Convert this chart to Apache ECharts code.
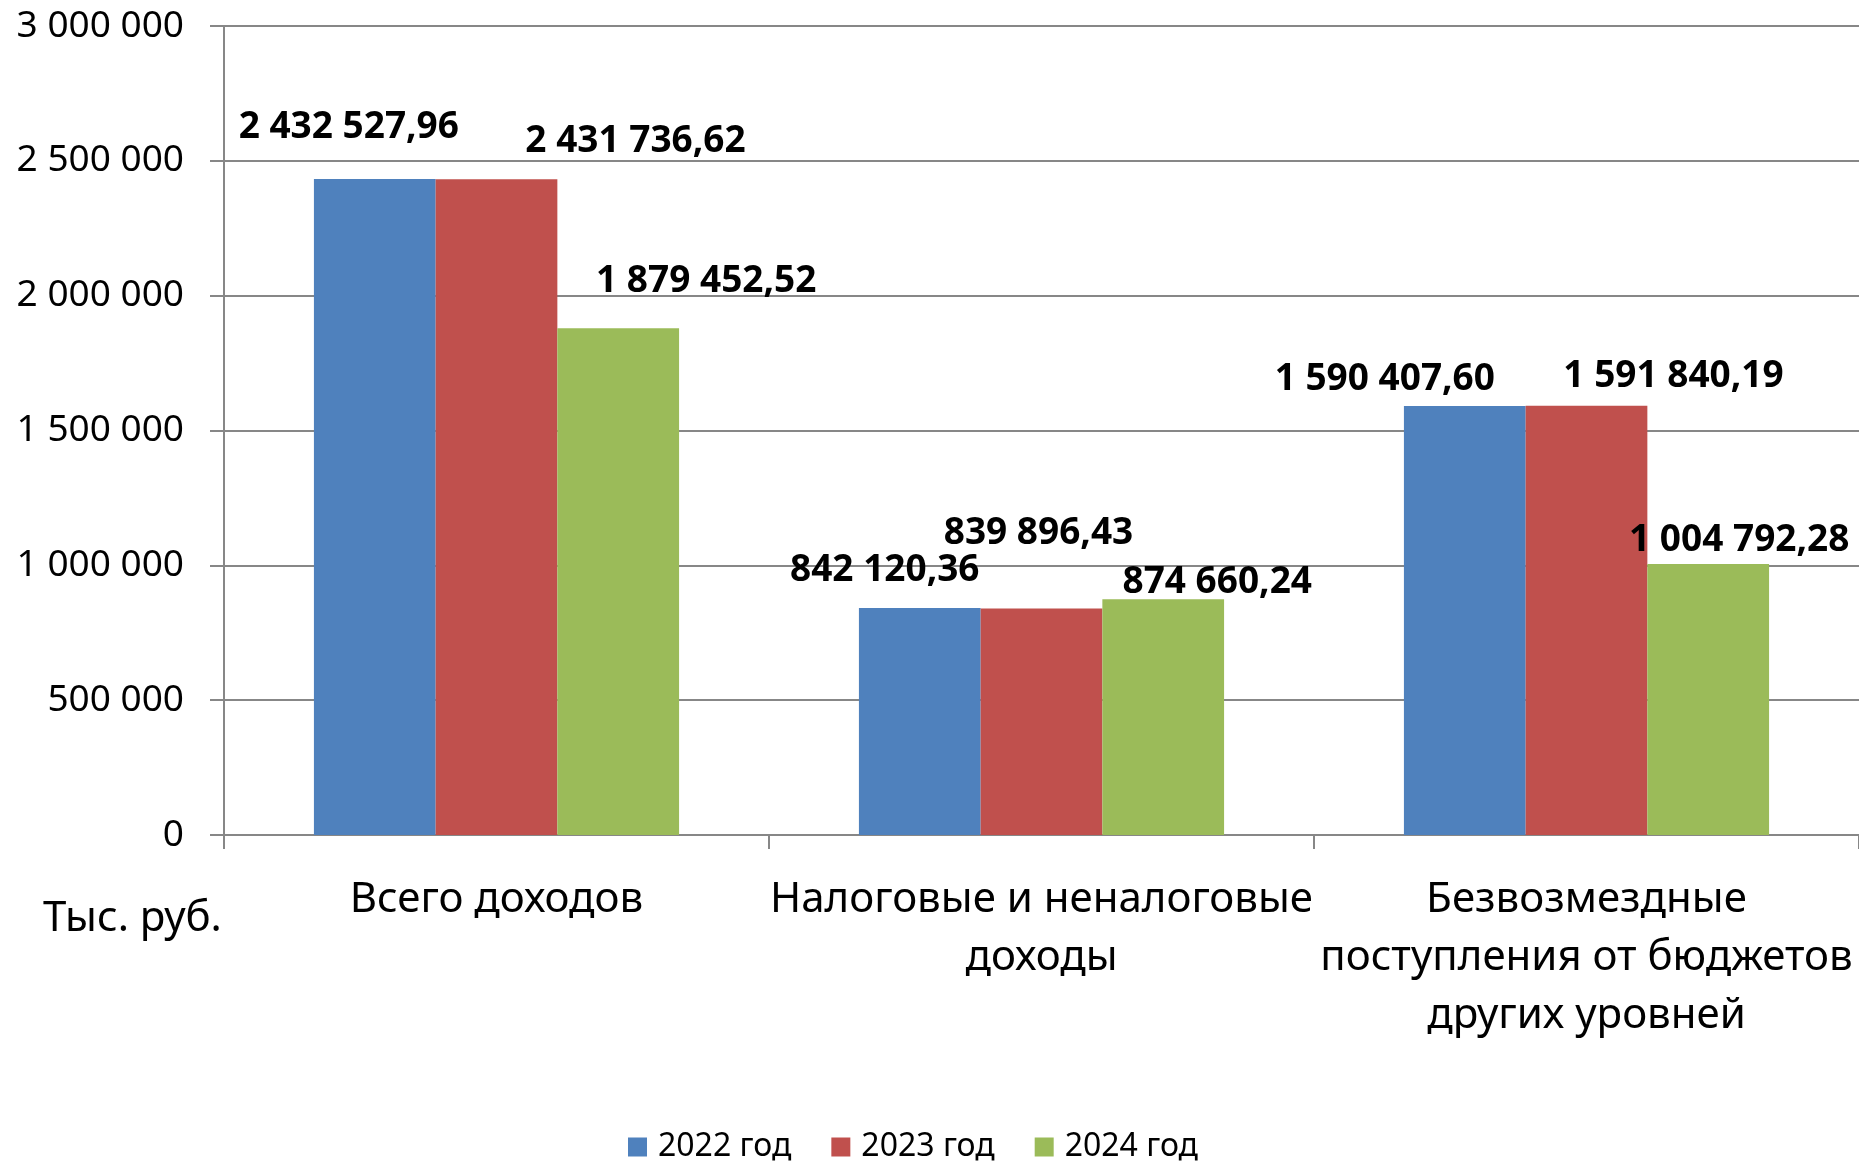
<!DOCTYPE html>
<html>
<head>
<meta charset="utf-8">
<title>Доходы</title>
<script src="https://cdn.jsdelivr.net/npm/echarts@6/dist/echarts.min.js"></script>
<style>
  html, body { margin: 0; padding: 0; background: #fff; }
  #cv { width: 1859px; height: 1164px; }
</style>
</head>
<body>
<div id="cv"></div>
<script>
    var years = ['2022 год', '2023 год', '2024 год'];
    var categories = ['Всего доходов', 'Налоговые и неналоговые\nдоходы', 'Безвозмездные\nпоступления от бюджетов\nдругих уровней'];
    var v2022 = [2432527.96, 842120.36, 1590407.60];
    var v2023 = [2431736.62, 839896.43, 1591840.19];
    var v2024 = [1879452.52, 874660.24, 1004792.28];
    var yMin = 0, yMax = 3000000, yStep = 500000;

    // where the labels were dragged to in the original (px, from bar top centre)
    var shift2022 = [[-26, -33], [-35, -19], [-80, -8]];
    var shift2023 = [[139, -19], [-3, -57], [87, -11]];
    var shift2024 = [[88, -28], [54, 2], [31, -5]];

    var colors = ['#4F81BD', '#C0504D', '#9BBB59'];
    var font = 'Noto Sans';
    var gray = '#878787';

    function fmt(v, d) {
        var parts = v.toFixed(d).split('.');
        var whole = parts[0].replace(/\B(?=(\d{3})+(?!\d))/g, ' ');
        return parts.length > 1 ? whole + ',' + parts[1] : whole;
    }

    function seriesOf(name, values, shifts, color) {
        return {
            name: name,
            type: 'bar',
            barGap: '0%',
            barCategoryGap: '33%',
            itemStyle: { color: color },
            data: values.map(function (v, i) {
                return {
                    value: v,
                    label: { offset: shifts[i] }
                };
            }),
            label: {
                show: true,
                position: 'top',
                distance: 0,
                fontFamily: font,
                fontWeight: 'bold',
                fontSize: 37,
                lineHeight: 37,
                color: '#000',
                formatter: function (p) { return fmt(p.value, 2); }
            }
        };
    }

    var myChart = echarts.init(document.getElementById('cv'));
    var option = {
        animation: false,
        textStyle: { fontFamily: font },
        grid: {
            left: 224,
            width: 1642,
            top: 26,
            bottom: 329
        },
        legend: {
            data: years,
            left: 628,
            top: 1131,
            padding: 0,
            itemWidth: 19,
            itemHeight: 19,
            itemGap: 40,
            icon: 'rect',
            textStyle: { fontFamily: font, fontSize: 32, color: '#000', padding: [0, 0, 0, 6] }
        },
        graphic: [{
            type: 'text',
            left: 43,
            top: 898,
            style: { text: 'Тыс. руб.', fontFamily: font, fontSize: 42, fill: '#000' }
        }],
        xAxis: {
            type: 'category',
            data: categories,
            axisLine: { lineStyle: { color: gray, width: 2 } },
            axisTick: { show: true, length: 14, lineStyle: { color: gray, width: 2 } },
            axisLabel: {
                margin: 36,
                fontFamily: font,
                fontSize: 42,
                lineHeight: 58,
                color: '#000',
                interval: 0
            }
        },
        yAxis: {
            type: 'value',
            min: yMin,
            max: yMax,
            interval: yStep,
            axisLine: { show: true, lineStyle: { color: gray, width: 2 } },
            axisTick: { show: true, length: 14, lineStyle: { color: gray, width: 2 } },
            splitLine: { lineStyle: { color: gray, width: 2 } },
            axisLabel: {
                margin: 40,
                fontFamily: font,
                fontSize: 37,
                color: '#000',
                formatter: function (v) { return fmt(v, 0); }
            }
        },
        series: [
            seriesOf(years[0], v2022, shift2022, colors[0]),
            seriesOf(years[1], v2023, shift2023, colors[1]),
            seriesOf(years[2], v2024, shift2024, colors[2])
        ]
    };
    myChart.setOption(option);
</script>
</body>
</html>
